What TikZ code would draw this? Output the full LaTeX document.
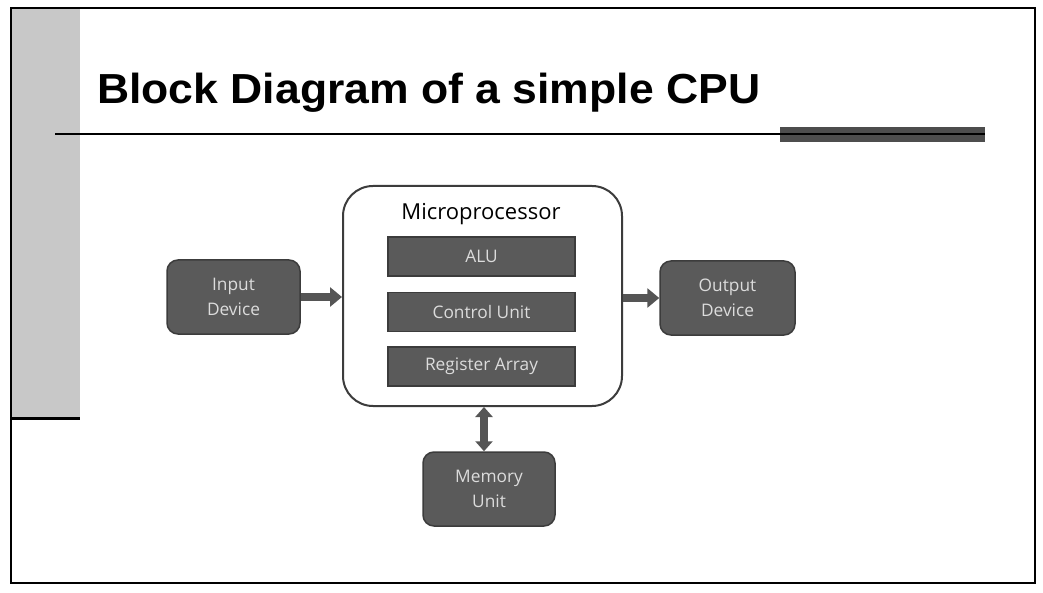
\documentclass[tikz,border=0pt]{standalone}
\usepackage{fontspec}
\setmainfont{Liberation Sans}
\newfontfamily\diagfont{Open Sans}
\usetikzlibrary{arrows.meta}
\definecolor{sidegray}{HTML}{C8C8C8}
\definecolor{bardark}{HTML}{4D4D4D}
\definecolor{boxfill}{HTML}{5A5A5A}
\definecolor{boxedge}{HTML}{3C3C3C}
\definecolor{boxtext}{HTML}{DCDCDC}
\definecolor{arrowcol}{HTML}{555555}
\tikzset{
  unitbox/.style={draw=boxedge, line width=1.2pt, fill=boxfill, text=boxtext,
    minimum width=187pt, minimum height=39pt, inner sep=0pt,
    font=\diagfont\fontsize{17.3}{20}\selectfont},
  devbox/.style={draw=boxedge, line width=1.5pt, fill=boxfill, text=boxtext,
    rounded corners=11pt, minimum width=133pt, minimum height=74pt, inner sep=0pt,
    align=center, font=\diagfont\fontsize{17.3}{25}\selectfont},
  fatarrow/.style={draw=arrowcol, line width=7.5pt,
    -{Triangle[length=12pt,width=19pt]}},
  fatdarrow/.style={draw=arrowcol, line width=7.5pt,
    {Triangle[length=10pt,width=17pt]}-{Triangle[length=10pt,width=17pt]}}
}
\begin{document}
\begin{tikzpicture}[x=1pt,y=-1pt]
\useasboundingbox (0,0) rectangle (1043,593);
\fill[white] (0,0) rectangle (1043,593);
% slide decoration
\fill[sidegray] (11,8) rectangle (80,418);
\draw[line width=3pt] (11,418) -- (80,418);
\draw[line width=2pt] (11,8) rectangle (1035,583);
\fill[bardark] (780,127) rectangle (985,142);
\draw[line width=2pt] (55,134) -- (985,134);
\node[anchor=base west, inner sep=0pt, xscale=1.06, font=\bfseries\fontsize{42}{48}\selectfont] (title) at (97,104) {Block Diagram of a simple CPU};
% diagram
\node[draw=boxedge, line width=2pt, rounded corners=30pt, fill=white,
  minimum width=279pt, minimum height=220pt] (micro) at (482.5,296) {};
\node[font=\diagfont\fontsize{22}{26}\selectfont, anchor=base] (mlabel) at (481,220) {Microprocessor};
\node[unitbox] (alu) at (481.5,256.5) {ALU};
\node[unitbox] (cu) at (481.5,312) {Control Unit};
\node[unitbox] (reg) at (481.5,366.5) {Register Array};
\node[devbox] (in) at (233.5,297) {Input\\Device};
\node[devbox, minimum width=135pt] (out) at (727.5,298) {Output\\Device};
\node[devbox, minimum width=132pt] (mem) at (489,489) {Memory\\Unit};
\draw[fatarrow] (in.east) -- (micro.west |- in.east);
\draw[fatarrow] (micro.east |- out.west) -- (out.west);
\draw[fatdarrow] ([xshift=1.5pt]micro.south) -- ([xshift=1.5pt]micro.south |- mem.north);
\end{tikzpicture}
\end{document}
